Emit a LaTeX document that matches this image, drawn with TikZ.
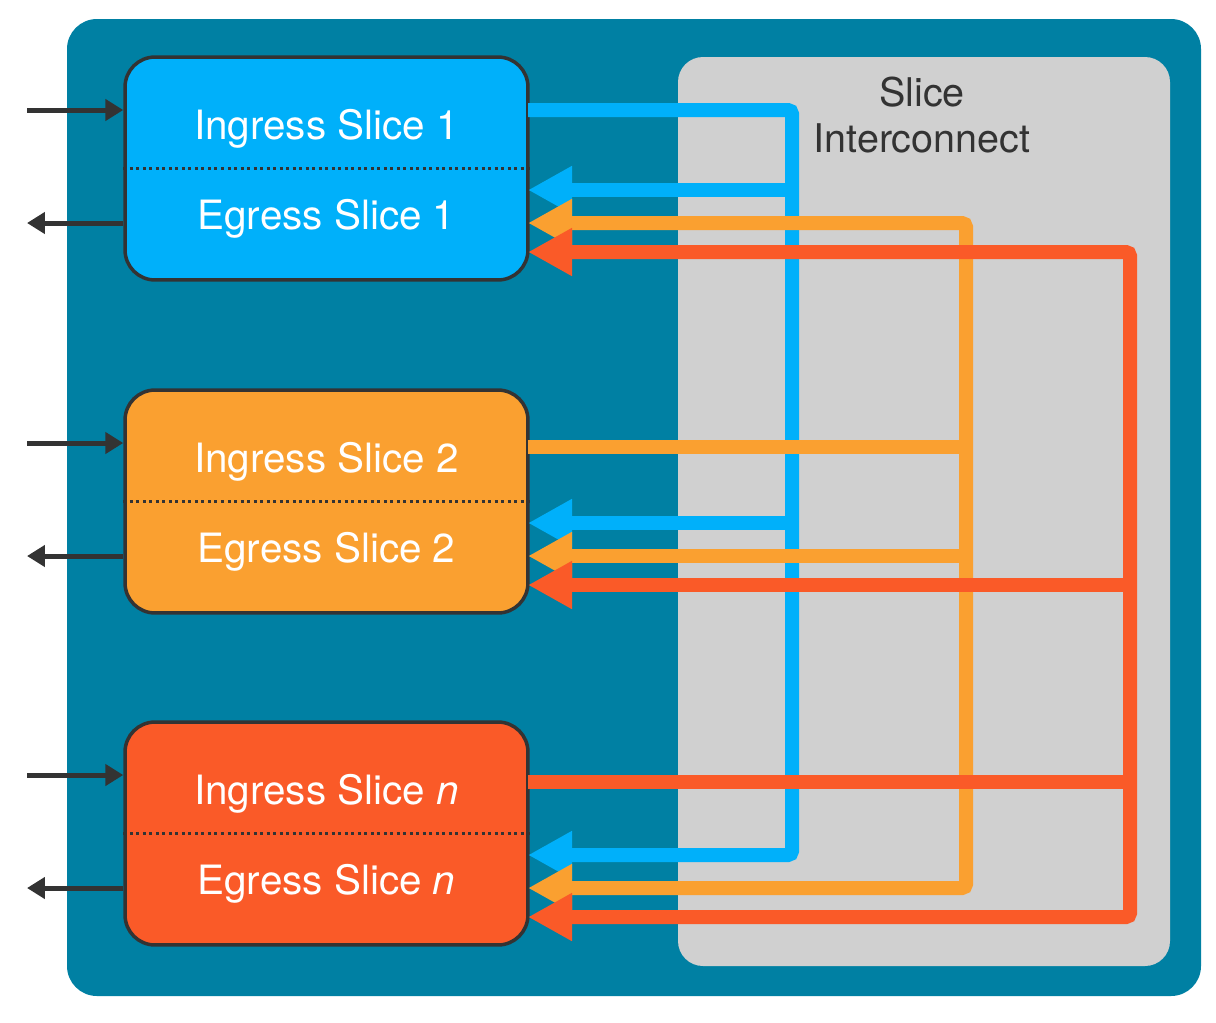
\documentclass[tikz,border=0pt]{standalone}
\usepackage{fontspec}
\setmainfont{TeX Gyre Heros}
\usetikzlibrary{arrows.meta}

\definecolor{chassis}{RGB}{0,128,163}
\definecolor{fabric}{RGB}{208,208,208}
\definecolor{sliceblue}{RGB}{0,176,250}
\definecolor{sliceorange}{RGB}{250,160,48}
\definecolor{slicered}{RGB}{250,90,40}
\definecolor{edge}{RGB}{51,51,51}

\begin{document}
\begin{tikzpicture}[x=0.02cm, y=-0.02cm,
    slicebox/.style={draw=edge, line width=0.07cm, rounded corners=0.6cm,
        minimum width=8.06cm, minimum height=4.46cm},
    slicetext/.style={text=white, font=\fontsize{23}{27}\selectfont},
    wire/.style={line width=0.28cm, rounded corners=0.08cm,
        >={Triangle[length=0.88cm, width=0.9cm]}},
    io/.style={draw=edge, line width=0.1cm, -{Triangle[length=0.36cm, width=0.42cm]}}]

    \useasboundingbox (0,0) rectangle (1216,1022);

    % chassis and the interconnect area
    \fill[chassis, rounded corners=0.6cm] (67,19) rectangle (1201,996);
    \fill[fabric, rounded corners=0.5cm] (678,57) rectangle (1170,966);
    \node[text=edge, align=center, font=\fontsize{22.5}{26}\selectfont] (fabriclabel) at (922,115) {Slice\\Interconnect};

    % the slices, with their ports
    \foreach \i/\ytop/\col/\lab/\iy in {1/57/sliceblue/1/53, 2/390/sliceorange/2/57, n/722/slicered/\textit{n}/60} {
        \node[slicebox, fill=\col] (slice\i) at (326.5,\ytop+111.5) {};
        \draw[edge, line width=0.06cm, dotted] (slice\i.west) -- (slice\i.east);
        \node[slicetext] (in\i) at (326.5,\ytop+72) {Ingress Slice \lab};
        \node[slicetext] (eg\i) at (326.5,\ytop+162) {Egress Slice \lab};
        \coordinate (src\i) at (27,\ytop+53);
        \coordinate (sink\i) at (27,\ytop+166);
        \draw[io] (src\i) -- (slice\i.west |- src\i);
        \draw[io] (slice\i.west |- sink\i) -- (sink\i);
        \coordinate (in\i-out) at (528,\ytop+\iy);
        \coordinate (eg\i-b) at (528,\ytop+133);
        \coordinate (eg\i-o) at (528,\ytop+166);
        \coordinate (eg\i-r) at (528,\ytop+195);
    }

    % busses through the interconnect
    \coordinate (busb) at (792,0);
    \coordinate (buso) at (966,0);
    \coordinate (busr) at (1130,0);

    \draw[wire, sliceblue, ->] (in1-out) -| (busb |- egn-b) -- (egn-b);
    \foreach \i in {1,2}
        \draw[wire, sliceblue, ->] (busb |- eg\i-b) -- (eg\i-b);

    \draw[wire, sliceorange] (in2-out) -- (buso |- in2-out);
    \draw[wire, sliceorange, <->] (eg1-o) -| (buso |- egn-o) -- (egn-o);
    \draw[wire, sliceorange, ->] (buso |- eg2-o) -- (eg2-o);

    \draw[wire, slicered] (inn-out) -- (busr |- inn-out);
    \draw[wire, slicered, <->] (eg1-r) -| (busr |- egn-r) -- (egn-r);
    \draw[wire, slicered, ->] (busr |- eg2-r) -- (eg2-r);

\end{tikzpicture}
\end{document}
